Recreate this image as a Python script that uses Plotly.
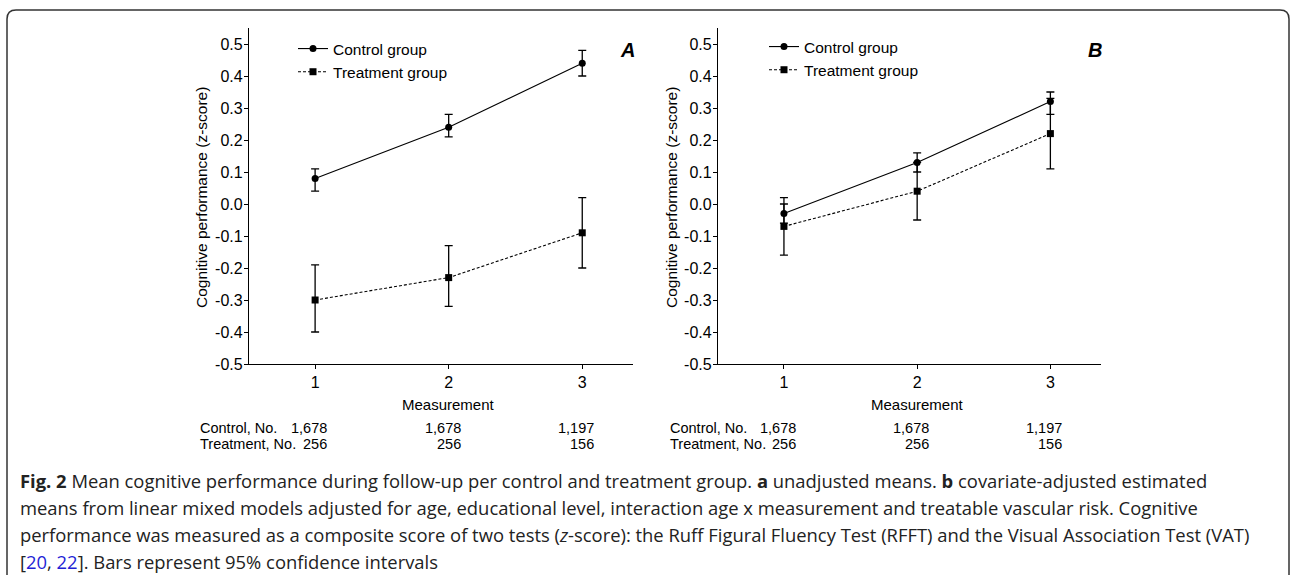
import plotly.graph_objects as go

W, H = 1292, 575

# ---------------- data ----------------
measurements = [1, 2, 3]

ctrl_mean_A = [0.08, 0.24, 0.44]
ctrl_low_A = [0.04, 0.21, 0.40]
ctrl_high_A = [0.11, 0.28, 0.48]
trt_mean_A = [-0.30, -0.23, -0.09]
trt_low_A = [-0.40, -0.32, -0.20]
trt_high_A = [-0.19, -0.13, 0.02]

ctrl_mean_B = [-0.03, 0.13, 0.32]
ctrl_low_B = [-0.06, 0.10, 0.28]
ctrl_high_B = [0.00, 0.16, 0.35]
trt_mean_B = [-0.07, 0.04, 0.22]
trt_low_B = [-0.16, -0.05, 0.11]
trt_high_B = [0.02, 0.13, 0.33]

control_n = ["1,678", "1,678", "1,197"]
treatment_n = ["256", "256", "156"]

ytick_vals = [0.5, 0.4, 0.3, 0.2, 0.1, 0.0, -0.1, -0.2, -0.3, -0.4, -0.5]
ytick_text = ["0.5", "0.4", "0.3", "0.2", "0.1", "0.0", "-0.1", "-0.2", "-0.3", "-0.4", "-0.5"]
xtick_vals = [1, 2, 3]
xtick_text = ["1", "2", "3"]

FONT = "Liberation Sans, Arial, sans-serif"


def px(x):
    return x / W


def py(y):
    return 1 - y / H


def err(mean, low, high):
    return dict(
        type="data",
        array=[h - m for m, h in zip(mean, high)],
        arrayminus=[m - l for m, l in zip(mean, low)],
        color="black",
        thickness=1.3,
        width=4,
    )


fig = go.Figure()

panels = [
    ("x", "y", "legend", ctrl_mean_A, ctrl_low_A, ctrl_high_A, trt_mean_A, trt_low_A, trt_high_A),
    ("x2", "y2", "legend2", ctrl_mean_B, ctrl_low_B, ctrl_high_B, trt_mean_B, trt_low_B, trt_high_B),
]

for xa, ya, lg, cm, cl, ch, tm, tl, th in panels:
    fig.add_trace(go.Scatter(
        x=measurements, y=tm, mode="lines+markers", name="Treatment group",
        line=dict(color="black", width=1.1, dash="3px,2px"),
        marker=dict(symbol="square", size=7, color="black"),
        error_y=err(tm, tl, th), xaxis=xa, yaxis=ya, legend=lg, legendrank=2,
    ))
    fig.add_trace(go.Scatter(
        x=measurements, y=cm, mode="lines+markers", name="Control group",
        line=dict(color="black", width=1.1),
        marker=dict(symbol="circle", size=7, color="black"),
        error_y=err(cm, cl, ch), xaxis=xa, yaxis=ya, legend=lg, legendrank=1,
    ))

x_dom_A = [px(249), px(633)]
x_dom_B = [px(718), px(1101)]
y_dom = [py(364), py(28)]

common_x = dict(
    range=[0.505, 3.38], tickmode="array", tickvals=xtick_vals, ticktext=xtick_text,
    showline=True, linecolor="black", linewidth=1.3, ticks="outside", ticklen=4,
    tickwidth=1.3, tickcolor="black", showgrid=False, zeroline=False,
    tickfont=dict(family=FONT, size=16, color="black"), fixedrange=True,
    ticklabelstandoff=0, automargin=False,
)
common_y = dict(
    range=[-0.5, 0.55], tickmode="array", tickvals=ytick_vals, ticktext=ytick_text,
    showline=True, linecolor="black", linewidth=1.3, ticks="outside", ticklen=4,
    tickwidth=1.3, tickcolor="black", showgrid=False, zeroline=False,
    tickfont=dict(family=FONT, size=16, color="black"), fixedrange=True,
    ticklabelstandoff=-2, automargin=False,
)

legend_common = dict(
    font=dict(family=FONT, size=15.5, color="black"), bgcolor="rgba(0,0,0,0)",
    borderwidth=0, xanchor="left", yanchor="top", tracegroupgap=0,
    traceorder="normal", itemwidth=30,
)

fig.update_layout(
    width=W, height=H,
    margin=dict(l=0, r=0, t=0, b=0, autoexpand=False),
    paper_bgcolor="white", plot_bgcolor="white",
    font=dict(family=FONT, size=15, color="black"),
    xaxis=dict(domain=x_dom_A, anchor="y", **common_x),
    yaxis=dict(domain=y_dom, anchor="x", **common_y),
    xaxis2=dict(domain=x_dom_B, anchor="y2", **common_x),
    yaxis2=dict(domain=y_dom, anchor="x2", **common_y),
    legend=dict(x=px(293), y=py(32), **legend_common),
    legend2=dict(x=px(764), y=py(30), **legend_common),
    showlegend=True,
)


def ann(text, x, y, xref="paper", **kw):
    d = dict(text=text, x=x, y=y, xref=xref, yref="paper", showarrow=False,
             xanchor=kw.pop("xanchor", "center"), yanchor=kw.pop("yanchor", "middle"),
             font=kw.pop("font", dict(family=FONT, size=15, color="black")))
    d.update(kw)
    return d


TABLE_FONT = dict(family=FONT, size=14.5, color="black")

annotations = []
# panel letters
annotations.append(ann("<b><i>A</i></b>", px(627), py(50), font=dict(family=FONT, size=20, color="black")))
annotations.append(ann("<b><i>B</i></b>", px(1095), py(50), font=dict(family=FONT, size=20, color="black")))

for xa, ytitle_x, label_x in [("x", 201, 198), ("x2", 671, 668)]:
    annotations.append(ann("Cognitive performance (z-score)", px(ytitle_x), py(198), textangle=-90,
                           font=dict(family=FONT, size=15.5, color="black")))
    annotations.append(ann("Measurement", 2, py(404), xref=xa))
    annotations.append(ann("Control, No.", px(label_x), py(428), xanchor="left", font=TABLE_FONT))
    annotations.append(ann("Treatment, No.", px(label_x), py(444), xanchor="left", font=TABLE_FONT))
    for m, cn, tn in zip(measurements, control_n, treatment_n):
        annotations.append(ann(cn, m, py(428), xref=xa, xanchor="right", xshift=14, font=TABLE_FONT))
        annotations.append(ann(tn, m, py(444), xref=xa, xanchor="right", xshift=14, font=TABLE_FONT))

CAP_FONT = "Open Sans, Noto Sans, sans-serif"
caption_lines = [
    "<b>Fig. 2</b> Mean cognitive performance during follow-up per control and treatment group. <b>a</b> unadjusted means. <b>b</b> covariate-adjusted estimated",
    "means from linear mixed models adjusted for age, educational level, interaction age x measurement and treatable vascular risk. Cognitive",
    "performance was measured as a composite score of two tests (<i>z</i>-score): the Ruff Figural Fluency Test (RFFT) and the Visual Association Test (VAT)",
    "[<span style='color:#1f1fd6'>20</span>, <span style='color:#1f1fd6'>22</span>]. Bars represent 95% confidence intervals",
]
caption_y = [480, 507, 534, 561]
for t, yy in zip(caption_lines, caption_y):
    annotations.append(ann(t, px(18), py(yy), xanchor="left",
                           font=dict(family=CAP_FONT, size=18.4, color="#222222")))

fig.update_layout(annotations=annotations)

# rounded frame around figure + caption
x0, x1, y0, y1, r = px(7), px(1289), py(10), py(600), 9
rx, ry = r / W, r / H
path = (f"M {x0+rx},{y0} L {x1-rx},{y0} Q {x1},{y0} {x1},{y0-ry} "
        f"L {x1},{y1+ry} Q {x1},{y1} {x1-rx},{y1} L {x0+rx},{y1} Q {x0},{y1} {x0},{y1+ry} "
        f"L {x0},{y0-ry} Q {x0},{y0} {x0+rx},{y0} Z")
fig.add_shape(type="path", path=path, xref="paper", yref="paper",
              line=dict(color="#333333", width=1.5), fillcolor="rgba(0,0,0,0)", layer="below")

fig.write_html("out.html", config={"displayModeBar": False},
               post_script="document.body.style.margin='0px';")
